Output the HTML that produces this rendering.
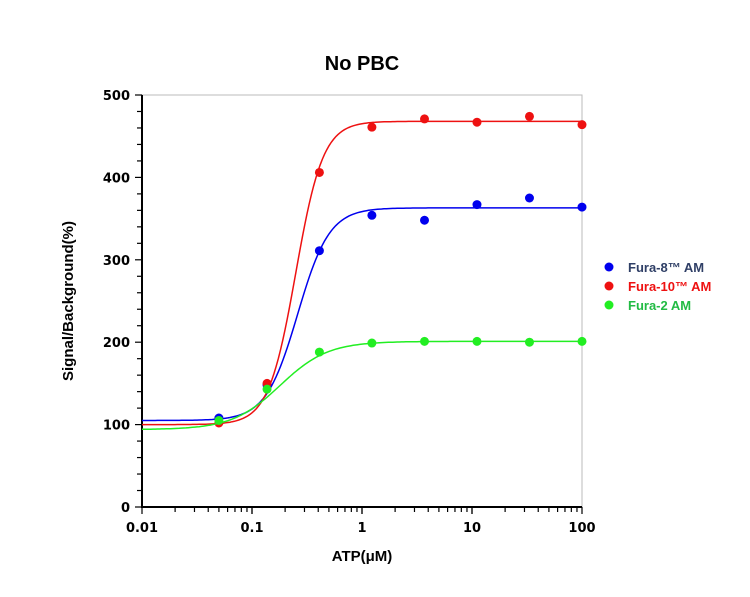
<!DOCTYPE html>
<html><head><meta charset="utf-8"><style>
body{margin:0;background:#fff;width:750px;height:592px;overflow:hidden}
svg{font-family:"Liberation Sans",sans-serif}
</style></head><body>
<svg id="c" width="750" height="592">
<text x="362" y="70" text-anchor="middle" font-size="20" font-weight="bold">No PBC</text>
<text transform="translate(73,301) rotate(-90)" text-anchor="middle" font-size="15" font-weight="bold">Signal/Background(%)</text>
<text x="362" y="561" text-anchor="middle" font-size="15" font-weight="bold">ATP(μM)</text>
<g id="legend"></g>
</svg>
<script>
const xs=[0.05,0.137,0.41,1.23,3.7,11.1,33.3,100];
const fura8=[108,148,311,354,348,367,375,364];
const fura10=[102,150,406,461,471,467,474,464];
const fura2=[105,143,188,199,201,201,200,201];
const seriesNames=["Fura-8™ AM","Fura-10™ AM","Fura-2 AM"];
const fit8=[105,363,0.26,3.0];
const fit10=[100,468,0.25,3.5];
const fit2=[94,201,0.18,2.0];
const yTicks=[0,100,200,300,400,500];
const xTicks=[0.01,0.1,1,10,100];
const xTickLabels=["0.01","0.1","1","10","100"];
const L=142,R=582,T=95,B=507;
const sx=v=>L+(Math.log10(v)+2)/4*(R-L);
const sy=v=>B-v/500*(B-T);
const svg=document.getElementById('c');const NS="http://www.w3.org/2000/svg";
function mk(t,a,p){const e=document.createElementNS(NS,t);for(const k in a)e.setAttribute(k,a[k]);(p||svg).appendChild(e);return e;}
let fr=mk('rect',{x:L,y:T,width:R-L,height:B-T,fill:'none',stroke:'#bbb','stroke-width':1});


for(let v=0;v<=500;v+=20){const major=v%100===0;let t=mk('line',{x1:L-(major?7:5),x2:L,y1:sy(v),y2:sy(v),stroke:'#000','stroke-width':1.2});

}
yTicks.forEach(v=>{let t=mk('text',{x:L-12,y:sy(v)+5,'text-anchor':'end','font-size':13,'font-weight':'bold','font-family':'DejaVu Sans, sans-serif'});t.textContent=v;

});
for(let d=-2;d<2;d++)for(let m=1;m<=10;m++){const v=m*Math.pow(10,d);let t=mk('line',{x1:sx(v),x2:sx(v),y1:B,y2:B+(m===1||m===10?7:5),stroke:'#000','stroke-width':1.2});

}
xTicks.forEach((v,i)=>{let t=mk('text',{x:sx(v),y:B+25,'text-anchor':'middle','font-size':13,'font-weight':'bold','font-family':'DejaVu Sans, sans-serif'});t.textContent=xTickLabels[i];

});
let ax=mk('path',{d:`M${L},${T} V${B} H${R}`,fill:'none',stroke:'#000','stroke-width':2});


const S=[[fura8,fit8,'#0000ee','fura-8'],[fura10,fit10,'#ee1111','fura-10'],[fura2,fit2,'#22ee22','fura-2']];
const lc=['#2f3f66','#ee1111','#22bb44'];
S.forEach(([ys,f,c,n],si)=>{
 let d='';for(let i=0;i<=200;i++){const lx=-2+4*i/200,x=Math.pow(10,lx);const y=f[0]+(f[1]-f[0])/(1+Math.pow(f[2]/x,f[3]));d+=(i?'L':'M')+sx(x).toFixed(1)+','+sy(y).toFixed(1);}
 let p=mk('path',{d,fill:'none',stroke:c,'stroke-width':1.5});
 
 
 ys.forEach((v,i)=>{let e=mk('circle',{cx:sx(xs[i]),cy:sy(v),r:4.5,fill:c});
 
 });
 const g=document.getElementById('legend');
 let lcirc=mk('circle',{cx:609,cy:267+si*19,r:4.5,fill:c},g);
 
 
 let lt=mk('text',{x:628,y:272+si*19,'font-size':13,'font-weight':'bold',fill:lc[si]},g);lt.textContent=seriesNames[si];
 
 
});
</script>
</body></html>
